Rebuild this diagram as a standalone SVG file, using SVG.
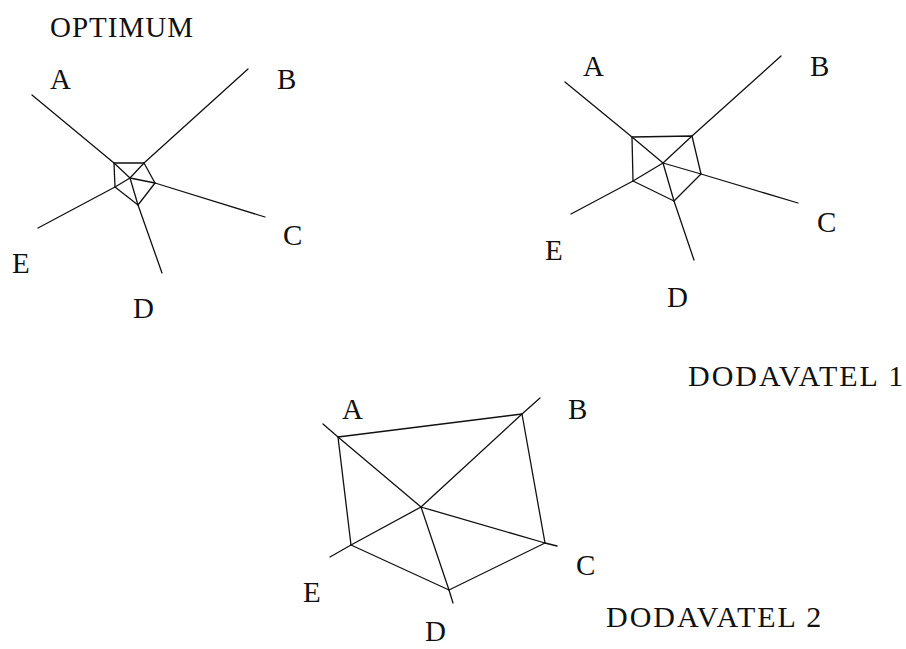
<svg xmlns="http://www.w3.org/2000/svg" width="906" height="649" viewBox="0 0 906 649">
  <style>
    .ln { fill: none; stroke: #111; stroke-width: 1.3; stroke-linejoin: round; stroke-linecap: round; }
    .lbl { font-family: "Liberation Serif", "Times New Roman", serif; font-size: 29px; letter-spacing: 1px; fill: #111; }
    .title { font-family: "Liberation Serif", "Times New Roman", serif; font-size: 30px; letter-spacing: 2px; fill: #111; }
  </style>
  <rect width="906" height="649" fill="#fff"/>

  <!-- Titles -->
  <text id="t-optimum" class="lbl" x="50" y="37">OPTIMUM</text>
  <text id="t-dod1" class="title" x="688" y="386">DODAVATEL 1</text>
  <text id="t-dod2" class="title" x="606" y="627">DODAVATEL 2</text>

  <!-- Chart 1: OPTIMUM -->
  <g id="chart-optimum">
    <g id="connectors-optimum" class="ln">
      <line x1="32" y1="95" x2="114" y2="163"/>
      <line x1="248" y1="69" x2="144" y2="163"/>
      <line x1="265" y1="217" x2="155" y2="183"/>
      <line x1="162" y1="273" x2="138" y2="205"/>
      <line x1="38" y1="228" x2="115" y2="187"/>
      <polygon points="114,163 144,163 155,183 138,205 115,187"/>
      <path d="M130,178 L114,163 M130,178 L144,163 M130,178 L155,183 M130,178 L138,205 M130,178 L115,187"/>
    </g>
    <g id="o-A"><text class="lbl" x="50" y="89">A</text></g>
    <g id="o-B"><text class="lbl" x="277" y="89">B</text></g>
    <g id="o-C"><text class="lbl" x="283" y="245">C</text></g>
    <g id="o-D"><text class="lbl" x="133" y="318">D</text></g>
    <g id="o-E"><text class="lbl" x="12" y="273">E</text></g>
  </g>

  <!-- Chart 2: DODAVATEL 1 -->
  <g id="chart-dod1">
    <g id="connectors-dod1" class="ln">
      <line x1="565" y1="82" x2="632" y2="137"/>
      <line x1="781" y1="56" x2="692" y2="136"/>
      <line x1="798" y1="203" x2="701" y2="174"/>
      <line x1="694" y1="260" x2="674" y2="201"/>
      <line x1="571" y1="214" x2="633" y2="181"/>
      <polygon points="632,137 692,136 701,174 674,201 633,181"/>
      <path d="M663,163 L632,137 M663,163 L692,136 M663,163 L701,174 M663,163 L674,201 M663,163 L633,181"/>
    </g>
    <g id="d1-A"><text class="lbl" x="583" y="76">A</text></g>
    <g id="d1-B"><text class="lbl" x="810" y="76">B</text></g>
    <g id="d1-C"><text class="lbl" x="817" y="232">C</text></g>
    <g id="d1-D"><text class="lbl" x="667" y="307">D</text></g>
    <g id="d1-E"><text class="lbl" x="545" y="260">E</text></g>
  </g>

  <!-- Chart 3: DODAVATEL 2 -->
  <g id="chart-dod2">
    <g id="connectors-dod2" class="ln">
      <line x1="323" y1="424" x2="338" y2="437"/>
      <line x1="540" y1="398" x2="522" y2="414"/>
      <line x1="557" y1="546" x2="545" y2="543"/>
      <line x1="453" y1="603" x2="449" y2="590"/>
      <line x1="330" y1="557" x2="351" y2="545"/>
      <polygon points="338,437 522,414 545,543 449,590 351,545"/>
      <path d="M421,507 L338,437 M421,507 L522,414 M421,507 L545,543 M421,507 L449,590 M421,507 L351,545"/>
    </g>
    <g id="d2-A"><text class="lbl" x="342" y="419">A</text></g>
    <g id="d2-B"><text class="lbl" x="568" y="419">B</text></g>
    <g id="d2-C"><text class="lbl" x="576" y="575">C</text></g>
    <g id="d2-D"><text class="lbl" x="425" y="641">D</text></g>
    <g id="d2-E"><text class="lbl" x="303" y="602">E</text></g>
  </g>
</svg>
